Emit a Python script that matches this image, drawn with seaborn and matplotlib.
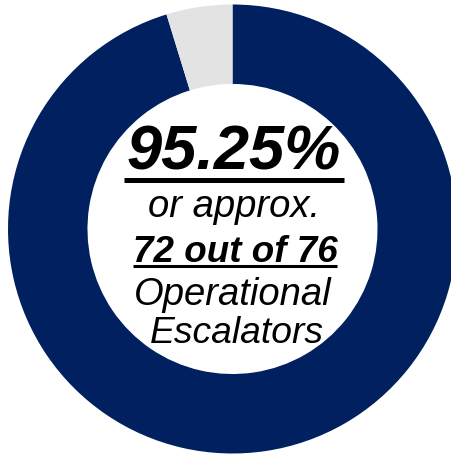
import matplotlib
matplotlib.use("Agg")
import matplotlib.pyplot as plt
import seaborn as sns
from matplotlib.lines import Line2D

# ---- data ----
categories = ["Operational", "Not operational"]
values = [95.25, 4.75]
colors = ["#002060", "#E3E3E3"]
headline = "95.25%"
line2 = "or approx."
line3 = "72 out of 76"
line4 = "Operational"
line5 = "Escalators"

sns.set_theme(style="white")
plt.rcParams["font.family"] = ["Liberation Sans", "DejaVu Sans"]

W, H = 452, 455
fig = plt.figure(figsize=(W / 100, H / 100), dpi=100)
fig.patch.set_facecolor("white")

cx, cy_top, R = 232.5, 229.0, 224.5
cy = H - cy_top
ax = fig.add_axes([(cx - R) / W, (cy - R) / H, 2 * R / W, 2 * R / H])
ax.pie(values, colors=colors, startangle=90, counterclock=False, radius=1.0,
       wedgeprops=dict(width=0.354, linewidth=0))
ax.set_xlim(-1, 1)
ax.set_ylim(-1, 1)
ax.set_aspect("equal")
ax.axis("off")

def px(x, ytop):
    return x / W, (H - ytop) / H

t1 = fig.text(*px(234, 170), headline, ha="center", va="baseline", fontsize=45.5,
              fontweight="bold", fontstyle="italic", color="black")
t2 = fig.text(*px(234.5, 217), line2, ha="center", va="baseline", fontsize=27.5,
              fontstyle="italic", color="black")
t3 = fig.text(*px(235, 262), line3, ha="center", va="baseline", fontsize=26.5,
              fontweight="bold", fontstyle="italic", color="black")
t4 = fig.text(*px(232.5, 305), line4, ha="center", va="baseline", fontsize=27.5,
              fontstyle="italic", color="black")
t5 = fig.text(*px(237, 343), line5, ha="center", va="baseline", fontsize=26.8,
              fontstyle="italic", color="black")

fig.canvas.draw()
r = fig.canvas.get_renderer()
for t, ytop, lw, pad in [(t1, 179.5, 3.6, 3), (t3, 265.5, 2.2, 0)]:
    bb = t.get_window_extent(r)
    x0, x1 = (bb.x0 - pad) / W, (bb.x1 + pad) / W
    y = (H - ytop) / H
    fig.add_artist(Line2D([x0, x1], [y, y], transform=fig.transFigure,
                          color="black", linewidth=lw, solid_capstyle="butt"))

fig.savefig("out.png", dpi=100, facecolor="white")
